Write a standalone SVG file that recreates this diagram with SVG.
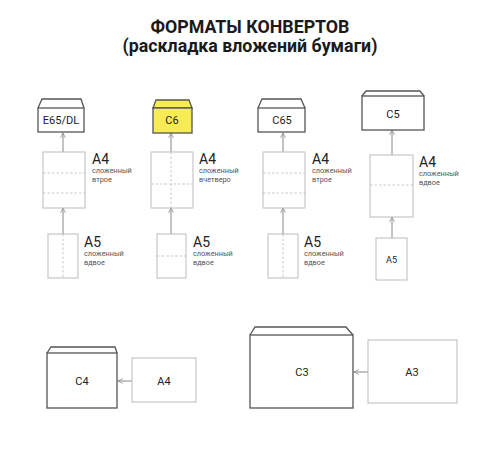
<svg xmlns="http://www.w3.org/2000/svg" width="500" height="450" viewBox="0 0 500 450">
<defs>
<marker id="ah" viewBox="0 0 10 10" refX="9" refY="5" markerWidth="6" markerHeight="6" orient="auto" markerUnits="userSpaceOnUse">
<path d="M1,1 L9,5 L1,9" fill="none" stroke="#888" stroke-width="1.3"/>
</marker>
</defs>
<style>
.bg{fill:#fff}
.env{fill:#fff;stroke:#555;stroke-width:1.3}
.yel{fill:#f7ec55}
.paper{fill:#fff;stroke:#bbb;stroke-width:1}
.fold{stroke:#bbb;stroke-width:0.8;stroke-dasharray:2.5,2;fill:none}
.conn{stroke:#888;stroke-width:1;fill:none;marker-end:url(#ah)}
.title{font-family:Roboto,"Liberation Sans",sans-serif;font-weight:bold;font-size:17.8px;fill:#1a1a1a;text-anchor:middle}
.el{font-family:Roboto,"Liberation Sans",sans-serif;font-size:11px;fill:#222;text-anchor:middle}
.big{font-family:Roboto,"Liberation Sans",sans-serif;font-size:14px;fill:#222}
.small{font-family:Roboto,"Liberation Sans",sans-serif;font-size:7.3px;fill:#555}
</style>
<rect class="bg" x="0" y="0" width="500" height="450"/>
<g id="title">
<text class="title" x="250" y="33">ФОРМАТЫ КОНВЕРТОВ</text>
<text class="title" x="250" y="52">(раскладка вложений бумаги)</text>
</g>
<g id="connectors">
<line class="conn" x1="63" y1="152" x2="63" y2="133"/>
<line class="conn" x1="63" y1="234" x2="63" y2="208"/>
<line class="conn" x1="171" y1="152" x2="171" y2="133"/>
<line class="conn" x1="171" y1="234" x2="171" y2="208"/>
<line class="conn" x1="283" y1="152" x2="283" y2="133"/>
<line class="conn" x1="283" y1="234" x2="283" y2="208"/>
<line class="conn" x1="392" y1="155" x2="392" y2="130"/>
<line class="conn" x1="392" y1="238" x2="392" y2="217"/>
<line class="conn" x1="132" y1="381" x2="118" y2="381"/>
<line class="conn" x1="368" y1="372" x2="354" y2="372"/>
</g>
<g id="env-e65">
<path class="env" d="M38,108 L42,99 L81,99 L84,108"/>
<rect class="env" x="38" y="108" width="46" height="24"/>
<text class="el" x="61" y="124">E65/DL</text>
</g>
<g id="a4-col1">
<rect class="paper" x="43" y="152" width="42" height="56"/>
<line class="fold" x1="43" y1="173" x2="85" y2="173"/>
<line class="fold" x1="43" y1="193" x2="85" y2="193"/>
<text class="big" x="92" y="164">A4</text>
<text class="small" x="92" y="173">сложенный</text>
<text class="small" x="92" y="182">втрое</text>
</g>
<g id="a5-col1">
<rect class="paper" x="48" y="234" width="30" height="44"/>
<line class="fold" x1="63" y1="234" x2="63" y2="278"/>
<text class="big" x="84" y="247">A5</text>
<text class="small" x="84" y="256">сложенный</text>
<text class="small" x="84" y="265">вдвое</text>
</g>
<g id="env-c6">
<path class="env yel" d="M153,108 L156,100 L189,100 L192,108 Z"/>
<rect class="env yel" x="153" y="108" width="39" height="25"/>
<text class="el" x="172" y="124">C6</text>
</g>
<g id="a4-col2">
<rect class="paper" x="151" y="152" width="42" height="56"/>
<line class="fold" x1="171" y1="152" x2="171" y2="208"/>
<line class="fold" x1="151" y1="184" x2="193" y2="184"/>
<text class="big" x="199" y="164">A4</text>
<text class="small" x="199" y="173">сложенный</text>
<text class="small" x="199" y="182">вчетверо</text>
</g>
<g id="a5-col2">
<rect class="paper" x="157" y="234" width="29" height="44"/>
<line class="fold" x1="157" y1="256" x2="186" y2="256"/>
<text class="big" x="193" y="247">A5</text>
<text class="small" x="193" y="256">сложенный</text>
<text class="small" x="193" y="265">вдвое</text>
</g>
<g id="env-c65">
<path class="env" d="M258,108 L262,99 L301,99 L305,108"/>
<rect class="env" x="258" y="108" width="47" height="24"/>
<text class="el" x="282" y="124">C65</text>
</g>
<g id="a4-col3">
<rect class="paper" x="263" y="152" width="42" height="56"/>
<line class="fold" x1="263" y1="173" x2="305" y2="173"/>
<line class="fold" x1="263" y1="193" x2="305" y2="193"/>
<text class="big" x="312" y="164">A4</text>
<text class="small" x="312" y="173">сложенный</text>
<text class="small" x="312" y="182">втрое</text>
</g>
<g id="a5-col3">
<rect class="paper" x="268" y="234" width="30" height="44"/>
<line class="fold" x1="283" y1="234" x2="283" y2="278"/>
<text class="big" x="304" y="247">A5</text>
<text class="small" x="304" y="256">сложенный</text>
<text class="small" x="304" y="265">вдвое</text>
</g>
<g id="env-c5">
<path class="env" d="M362,96 L366,91 L420,91 L424,96"/>
<rect class="env" x="362" y="96" width="62" height="34"/>
<text class="el" x="393" y="118">C5</text>
</g>
<g id="a4-col4">
<rect class="paper" x="370" y="155" width="43" height="62"/>
<line class="fold" x1="370" y1="185" x2="413" y2="185"/>
<text class="big" x="419" y="167">A4</text>
<text class="small" x="419" y="176">сложенный</text>
<text class="small" x="419" y="185">вдвое</text>
</g>
<g id="a5-col4">
<rect class="paper" x="376" y="238" width="31" height="42"/>
<text class="el" x="391.5" y="263" style="font-size:9px">A5</text>
</g>
<g id="env-c4">
<path class="env" d="M47,353 L51,347 L115,347 L117,353"/>
<rect class="env" x="47" y="353" width="70" height="55"/>
<text class="el" x="82" y="385">C4</text>
</g>
<g id="a4-bottom">
<rect class="paper" x="132" y="358" width="64" height="44"/>
<text class="el" x="164" y="385">A4</text>
</g>
<g id="env-c3">
<path class="env" d="M250,335 L255,327 L346,327 L353,335"/>
<rect class="env" x="250" y="335" width="103" height="73"/>
<text class="el" x="302" y="376">C3</text>
</g>
<g id="a3-bottom">
<rect class="paper" x="368" y="340" width="89" height="63"/>
<text class="el" x="412" y="376">A3</text>
</g>
</svg>
